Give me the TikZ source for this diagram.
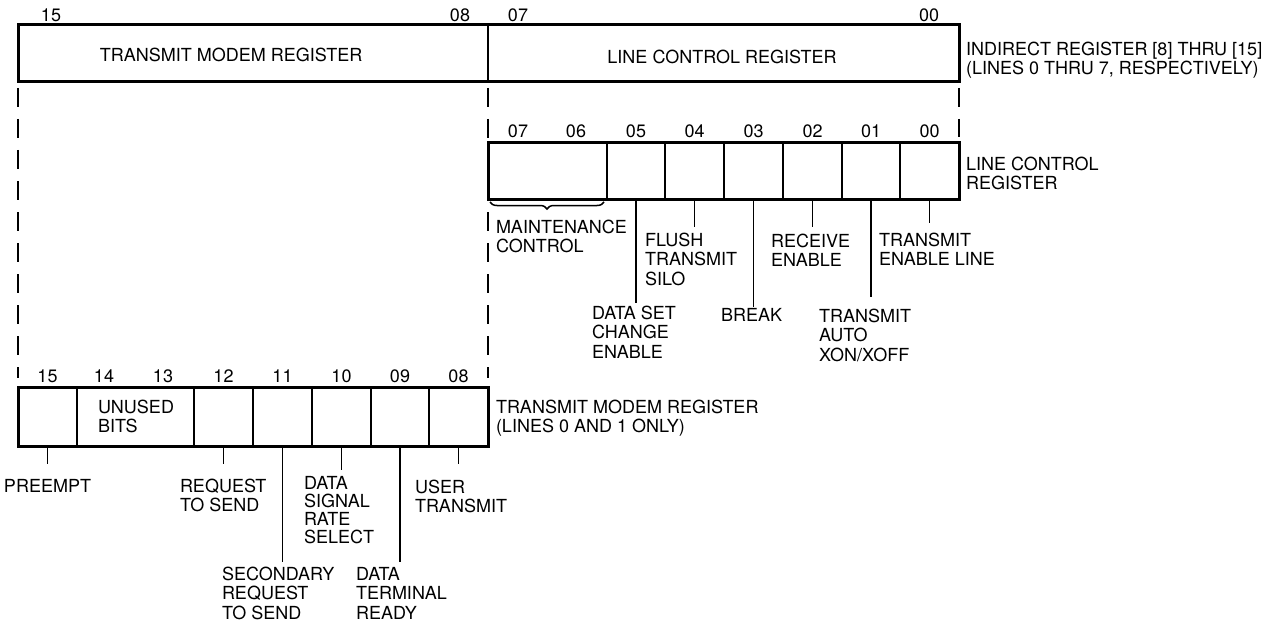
\documentclass[tikz,border=0pt]{standalone}
\usepackage{fontspec}
\setmainfont{TeX Gyre Heros}
\usetikzlibrary{decorations.pathreplacing}
\begin{document}
\begin{tikzpicture}[x=1pt,y=-1pt,
  every node/.style={inner sep=0pt, outer sep=0pt, font=\fontsize{18}{19.5}\selectfont},
  cell/.style={draw, line width=1.5pt, anchor=north west, minimum width=#1},
  topcell/.style={cell=#1, minimum height=57pt},
  lcrcell/.style={cell=#1, minimum height=56pt},
  tmrcell/.style={cell=#1, minimum height=59pt},
  outline/.style={line width=3pt},
  bitnum/.style={anchor=center},
  lbl/.style={anchor=north west, align=left},
  leader/.style={line width=1.7pt, shorten >=#1},
  dashline/.style={line width=1.8pt, dash pattern=on 19pt off 12pt},
  bracestyle/.style={line width=1.5pt, decorate, decoration={brace, amplitude=7pt, mirror}}
]
\useasboundingbox (0,0) rectangle (1277,623);

% ---------- top (indirect) register ----------
\node[topcell=470pt] (ttm) at (18,25) {};
\node[topcell=471pt] (tlc) at (488,25) {};
\draw[outline] (ttm.north west) rectangle (tlc.south east);
\node (ttmtext) at (231,55) {TRANSMIT MODEM REGISTER};
\node (tlctext) at (722,57) {LINE CONTROL REGISTER};
\node[bitnum] (tb15) at (51,15) {15};
\node[bitnum] (tb08) at (460,15) {08};
\node[bitnum] (tb07) at (518,15) {07};
\node[bitnum] (tb00) at (929,15) {00};
\node[lbl] (indirect) at (966,42) {INDIRECT REGISTER [8] THRU [15]\\(LINES 0 THRU 7, RESPECTIVELY)};

% ---------- line control register ----------
\node[lcrcell=119pt] (c07) at (488,143) {};
\node[lcrcell=58pt] (c05) at (607,143) {};
\node[lcrcell=59pt] (c04) at (665,143) {};
\node[lcrcell=59pt] (c03) at (724,143) {};
\node[lcrcell=59pt] (c02) at (783,143) {};
\node[lcrcell=58pt] (c01) at (842,143) {};
\node[lcrcell=59pt] (c00) at (900,143) {};
\draw[outline] (c07.north west) rectangle (c00.south east);
\node[bitnum] (lb07) at (518,131) {07};
\node[bitnum] (lb06) at (576,131) {06};
\node[bitnum] (lb05) at (c05.north |- 0,131) {05};
\node[bitnum] (lb04) at (c04.north |- 0,131) {04};
\node[bitnum] (lb03) at (c03.north |- 0,131) {03};
\node[bitnum] (lb02) at (c02.north |- 0,131) {02};
\node[bitnum] (lb01) at (c01.north |- 0,131) {01};
\node[bitnum] (lb00) at (c00.north |- 0,131) {00};
\node[lbl] (lcrname) at (966,157) {LINE CONTROL\\REGISTER};

\draw[bracestyle] ([xshift=2pt,yshift=-3pt]c07.south west) -- ([xshift=-3pt,yshift=-3pt]c07.south east);
\node[lbl] (lmaint) at (496,220) {MAINTENANCE\\CONTROL};
\node[lbl] (lflush) at (645,233) {FLUSH\\TRANSMIT\\SILO};
\node[lbl] (lrecv) at (771,234) {RECEIVE\\ENABLE};
\node[lbl] (lten) at (879,233) {TRANSMIT\\ENABLE LINE};
\node[lbl] (ldsc) at (592,306) {DATA SET\\CHANGE\\ENABLE};
\node[lbl] (lbreak) at (721,308) {BREAK};
\node[lbl] (lauto) at (819,309) {TRANSMIT\\AUTO\\XON/XOFF};

\draw[leader=3pt] (c05.south) -- (c05.south |- ldsc.north);
\draw[leader=6pt] (c04.south) -- (c04.south |- lflush.north);
\draw[leader=1pt] (c03.south) -- (c03.south |- lbreak.north);
\draw[leader=7pt] (c02.south) -- (c02.south |- lrecv.north);
\draw[leader=12pt] (c01.south) -- (c01.south |- lauto.north);
\draw[leader=10pt] (c00.south) -- (c00.south |- lten.north);

% ---------- transmit modem register ----------
\node[tmrcell=59pt] (b15) at (18,387) {};
\node[tmrcell=117pt] (b14) at (77,387) {};
\node[tmrcell=59pt] (b12) at (194,387) {};
\node[tmrcell=59pt] (b11) at (253,387) {};
\node[tmrcell=59pt] (b10) at (312,387) {};
\node[tmrcell=58pt] (b09) at (371,387) {};
\node[tmrcell=59pt] (b08) at (429,387) {};
\draw[outline] (b15.north west) rectangle (b08.south east);
\node[bitnum] (bb15) at (b15.north |- 0,376) {15};
\node[bitnum] (bb14) at (104,376) {14};
\node[bitnum] (bb13) at (163,376) {13};
\node[bitnum] (bb12) at (b12.north |- 0,376) {12};
\node[bitnum] (bb11) at (b11.north |- 0,376) {11};
\node[bitnum] (bb10) at (b10.north |- 0,376) {10};
\node[bitnum] (bb09) at (b09.north |- 0,376) {09};
\node[bitnum] (bb08) at (b08.north |- 0,376) {08};
\node[lbl] (lunused) at (98,400) {UNUSED\\BITS};
\node[lbl] (tmrname) at (496,400) {TRANSMIT MODEM REGISTER\\(LINES 0 AND 1 ONLY)};

\node[lbl] (lpre) at (4,479) {PREEMPT};
\node[lbl] (lrts) at (180,479) {REQUEST\\TO SEND};
\node[lbl] (lsrts) at (222,567) {SECONDARY\\REQUEST\\TO SEND};
\node[lbl, font=\fontsize{18}{18}\selectfont] (ldsr) at (304,476) {DATA\\SIGNAL\\RATE\\SELECT};
\node[lbl] (ldtr) at (356,567) {DATA\\TERMINAL\\READY};
\node[lbl] (luser) at (415,480) {USER\\TRANSMIT};

\draw[leader=15pt] (b15.south) -- (b15.south |- lpre.north);
\draw[leader=15pt] (b12.south) -- (b12.south |- lrts.north);
\draw[leader=5pt] (b11.south) -- (b11.south |- lsrts.north);
\draw[leader=6pt] (b10.south) -- (b10.south |- ldsr.north);
\draw[leader=5pt] (b09.south) -- (b09.south |- ldtr.north);
\draw[leader=16pt] (b08.south) -- (b08.south |- luser.north);

% ---------- dashed guide lines ----------
\draw[dashline] ([yshift=-6pt]ttm.south west) -- ([yshift=9pt]b15.north west);
\draw[dashline] ([yshift=-6pt]ttm.south east) -- ([yshift=9pt]b08.north east);
\draw[dashline] ([yshift=-6pt]tlc.south east) -- ([yshift=6pt]c00.north east);
\end{tikzpicture}
\end{document}
